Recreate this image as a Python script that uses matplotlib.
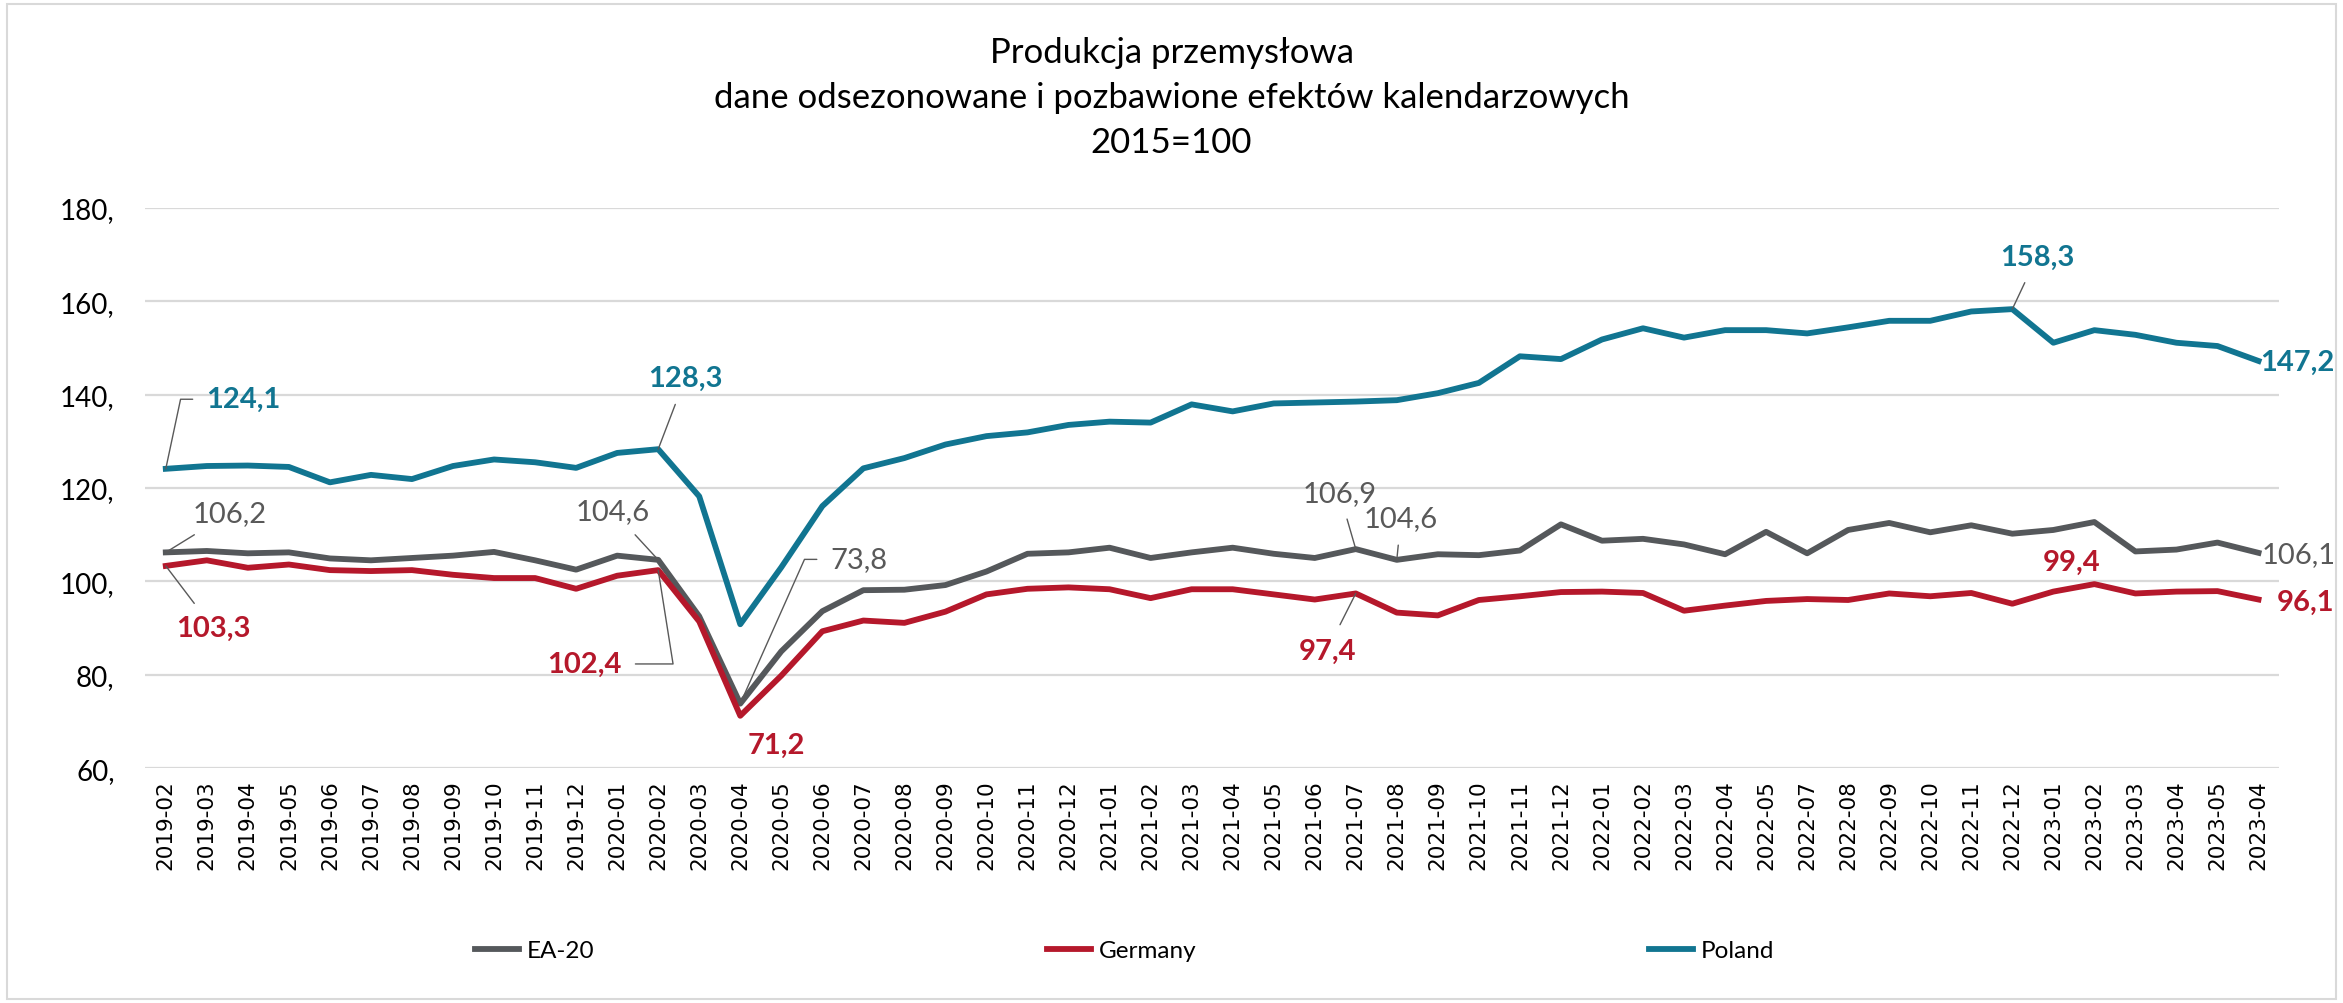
import numpy as np
import matplotlib.pyplot as plt
from matplotlib.patches import Rectangle

plt.rcParams['font.family'] = ['Lato', 'DejaVu Sans']

months = ['2019-02', '2019-03', '2019-04', '2019-05', '2019-06', '2019-07', '2019-08',
          '2019-09', '2019-10', '2019-11', '2019-12',
          '2020-01', '2020-02', '2020-03', '2020-04', '2020-05', '2020-06', '2020-07',
          '2020-08', '2020-09', '2020-10', '2020-11', '2020-12',
          '2021-01', '2021-02', '2021-03', '2021-04', '2021-05', '2021-06', '2021-07',
          '2021-08', '2021-09', '2021-10', '2021-11', '2021-12',
          '2022-01', '2022-02', '2022-03', '2022-04', '2022-05', '2022-07', '2022-08',
          '2022-09', '2022-10', '2022-11', '2022-12',
          '2023-01', '2023-02', '2023-03', '2023-04', '2023-05', '2023-04']

ea20 = [106.2, 106.5, 106.0, 106.2, 104.9, 104.5, 105.0, 105.5, 106.3, 104.5, 102.5,
        105.5, 104.6, 92.5, 73.8, 85.0, 93.6, 98.1, 98.2, 99.2, 102.1, 105.9, 106.2,
        107.2, 105.0, 106.2, 107.2, 105.9, 105.0, 106.9, 104.6, 105.8, 105.6, 106.6, 112.2,
        108.7, 109.1, 107.9, 105.8, 110.6, 106.0, 111.0, 112.5, 110.5, 112.0, 110.2,
        111.0, 112.7, 106.4, 106.8, 108.3, 106.1]

germany = [103.3, 104.5, 102.9, 103.6, 102.4, 102.2, 102.4, 101.4, 100.7, 100.7, 98.4,
           101.2, 102.4, 91.4, 71.2, 79.8, 89.3, 91.6, 91.1, 93.5, 97.2, 98.4, 98.7,
           98.3, 96.4, 98.3, 98.3, 97.2, 96.1, 97.4, 93.3, 92.7, 96.0, 96.8, 97.7,
           97.8, 97.5, 93.7, 94.8, 95.8, 96.2, 96.0, 97.4, 96.8, 97.5, 95.2,
           97.8, 99.4, 97.4, 97.8, 97.9, 96.1]

poland = [124.1, 124.7, 124.8, 124.5, 121.2, 122.8, 121.9, 124.7, 126.1, 125.5, 124.3,
          127.5, 128.3, 118.2, 90.8, 103.0, 116.1, 124.2, 126.4, 129.3, 131.1, 131.9, 133.5,
          134.2, 134.0, 137.9, 136.4, 138.1, 138.3, 138.5, 138.8, 140.3, 142.5, 148.2, 147.6,
          151.8, 154.2, 152.2, 153.8, 153.8, 153.1, 154.4, 155.8, 155.8, 157.8, 158.3,
          151.1, 153.8, 152.8, 151.1, 150.4, 147.2]

yticks = [60, 80, 100, 120, 140, 160, 180]

title_lines = ['Produkcja przemysłowa',
               'dane odsezonowane i pozbawione efektów kalendarzowych',
               '2015=100']

c_ea = '#55585B'
c_de = '#B5182B'
c_pl = '#117591'
c_ea_txt = '#595959'

fig = plt.figure(figsize=(23.43, 10.04), dpi=100)
fig.patches.append(Rectangle((0.003, 0.004), 0.994, 0.991, transform=fig.transFigure,
                             fill=False, edgecolor='#D9D9D9', lw=1.5))
ax = fig.add_axes([0.062, 0.234, 0.9107, 0.558])

x = np.arange(len(months))
l_ea, = ax.plot(x, ea20, color=c_ea, lw=4.2, solid_joinstyle='round', label='EA-20', zorder=3)
l_de, = ax.plot(x, germany, color=c_de, lw=4.2, solid_joinstyle='round', label='Germany', zorder=3)
l_pl, = ax.plot(x, poland, color=c_pl, lw=4.2, solid_joinstyle='round', label='Poland', zorder=3)

ax.set_xlim(-0.5, len(months) - 0.5)
ax.set_ylim(60, 180)
ax.set_yticks(yticks)
ax.set_yticklabels([f'{v},' for v in yticks], fontsize=20)
ax.set_xticks(x)
ax.set_xticklabels(months, rotation=90, fontsize=15.5, family='DejaVu Sans')
ax.tick_params(length=0, pad=8)
ax.tick_params(axis='y', pad=22)
ax.grid(axis='y', color='#D9D9D9', lw=1.6)
ax.set_axisbelow(True)
for s in ax.spines.values():
    s.set_visible(False)


def fmt(v):
    return f'{v:.1f}'.replace('.', ',')


# labels: (series, colour, bold, index, text x, text y, ha, connection style or None)
labels = [
    (poland, c_pl, True, 0, 1.9, 139.0, 'center', 'angle,angleA=0,angleB=78,rad=0'),
    (poland, c_pl, True, 12, 12.66, 143.5, 'center', 'arc3'),
    (poland, c_pl, True, 45, 45.6, 169.5, 'center', 'arc3'),
    (poland, c_pl, True, 51, 51.05, 147.0, 'left', None),
    (ea20, c_ea_txt, False, 0, 1.55, 114.6, 'center', 'arc3'),
    (ea20, c_ea_txt, False, 12, 10.9, 115.1, 'center', 'arc3'),
    (ea20, c_ea_txt, False, 14, 16.9, 104.7, 'center', 'angle,angleA=0,angleB=66,rad=0'),
    (ea20, c_ea_txt, False, 29, 28.6, 119.0, 'center', 'arc3'),
    (ea20, c_ea_txt, False, 30, 30.1, 113.5, 'center', 'arc3'),
    (ea20, c_ea_txt, False, 51, 51.07, 105.8, 'left', None),
    (germany, c_de, True, 0, 1.15, 90.0, 'center', 'arc3'),
    (germany, c_de, True, 12, 10.2, 82.3, 'center', 'angle,angleA=0,angleB=99,rad=0'),
    (germany, c_de, True, 14, 14.87, 65.0, 'center', None),
    (germany, c_de, True, 29, 28.3, 85.2, 'center', 'arc3'),
    (germany, c_de, True, 47, 46.45, 104.1, 'center', None),
    (germany, c_de, True, 51, 51.44, 95.6, 'left', None),
]

for ser, col, bold, i, tx, ty, ha, conn in labels:
    props = None
    if conn is not None:
        props = dict(arrowstyle='-', color='#595959', lw=1.0, shrinkA=8, shrinkB=0,
                     connectionstyle=conn)
    ax.annotate(fmt(ser[i]), xy=(i, ser[i]), xytext=(tx, ty), textcoords='data',
                ha=ha, va='center', fontsize=21, color=col,
                fontweight='bold' if bold else 'normal',
                arrowprops=props, annotation_clip=False, zorder=5)

for ty, line in zip([0.947, 0.902, 0.858], title_lines):
    fig.text(0.5, ty, line, ha='center', va='center', fontsize=25)

fig.legend(handles=[l_ea, l_de, l_pl], loc='center', bbox_to_anchor=(0.48, 0.052),
           ncol=3, frameon=False, fontsize=17.5, handlelength=1.8, handletextpad=0.35,
           columnspacing=18.6)

fig.savefig('out.png', dpi=100)
